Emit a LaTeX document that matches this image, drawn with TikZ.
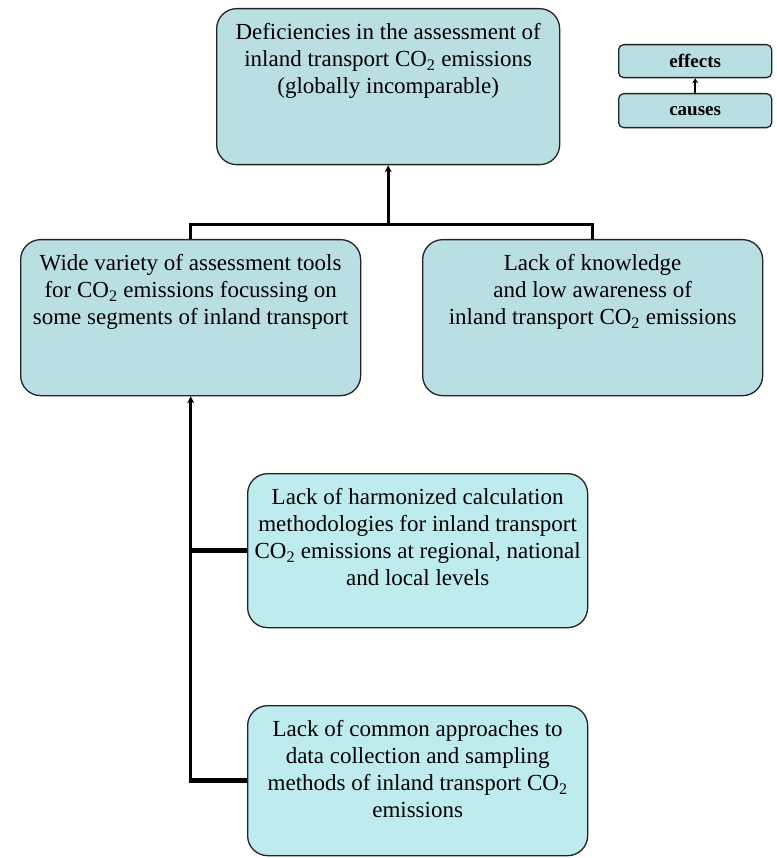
\documentclass[tikz,border=0pt]{standalone}
\usepackage{fontspec}
\setmainfont{Liberation Serif}
\usetikzlibrary{arrows.meta}
\definecolor{boxA}{RGB}{186,223,227}
\definecolor{boxB}{RGB}{190,236,238}
\definecolor{edgec}{RGB}{35,35,35}
\begin{document}
\begin{tikzpicture}[x=1pt,y=-1pt,
  bigbox/.style={draw=edgec, line width=1.3pt, rounded corners=20pt, fill=boxA, inner sep=0pt},
  subbox/.style={bigbox, fill=boxB},
  legbox/.style={draw=edgec, line width=1.3pt, rounded corners=5pt, fill=boxA, inner sep=0pt},
  txt/.style={anchor=north, inner sep=0pt, align=center, font=\fontsize{23pt}{27pt}\selectfont},
  legtxt/.style={inner sep=0pt, font=\fontsize{19pt}{22pt}\selectfont\bfseries},
  conn/.style={line width=3pt},
  branch/.style={line width=4.5pt},
  tip/.style={-{Stealth[length=7pt,width=7pt]}}
]
\useasboundingbox (0,0) rectangle (776,858);

% boxes
\node[bigbox, minimum width=343pt, minimum height=156pt, anchor=north west] (top) at (216,8) {};
\node[bigbox, minimum width=340pt, minimum height=156pt, anchor=north west] (left) at (20,239) {};
\node[bigbox, minimum width=340pt, minimum height=156pt, anchor=north west] (right) at (422,239) {};
\node[subbox, minimum width=340pt, minimum height=154pt, anchor=north west] (mid) at (247,473) {};
\node[subbox, minimum width=340pt, minimum height=150pt, anchor=north west] (bot) at (247,705) {};
\node[legbox, minimum width=153pt, minimum height=33pt, anchor=north west] (effects) at (618,44) {};
\node[legbox, minimum width=153pt, minimum height=34pt, anchor=north west] (causes) at (618,93) {};

% texts
\node[txt] (topT) at ([yshift=-15pt]top.north) {Deficiencies in the assessment of\\ inland transport CO\textsubscript{2} emissions\\ (globally incomparable)};
\node[txt] (leftT) at ([yshift=-15pt]left.north) {Wide variety of assessment tools\\ for CO\textsubscript{2} emissions focussing on\\ some segments of inland transport};
\node[txt] (rightT) at ([yshift=-15pt]right.north) {Lack of knowledge\\ and low awareness of\\ inland transport CO\textsubscript{2} emissions};
\node[txt] (midT) at ([yshift=-15pt]mid.north) {Lack of harmonized calculation\\ methodologies for inland transport\\ CO\textsubscript{2} emissions at regional, national\\ and local levels};
\node[txt] (botT) at ([yshift=-15pt]bot.north) {Lack of common approaches to\\ data collection and sampling\\ methods of inland transport CO\textsubscript{2}\\ emissions};
\node[legtxt] (effT) at (effects.center) {effects};
\node[legtxt] (cauT) at (causes.center) {causes};

% connectors
\coordinate (hm) at (top.south |- 0,225);
\draw[conn, line join=miter] (left.north) |- (hm) -| (right.north);
\draw[conn, tip] (hm) -- (top.south);
\coordinate (vb) at (left.south |- bot.west);
\draw[conn, tip] ([yshift=-2pt]vb) -- (left.south);
\draw[branch] (left.south |- mid.west) -- (mid.west);
\draw[branch] ([xshift=-1.5pt]vb) -- (bot.west);
\draw[line width=2pt, -{Stealth[length=5pt,width=6pt]}] (causes.north) -- (effects.south);
\end{tikzpicture}
\end{document}
